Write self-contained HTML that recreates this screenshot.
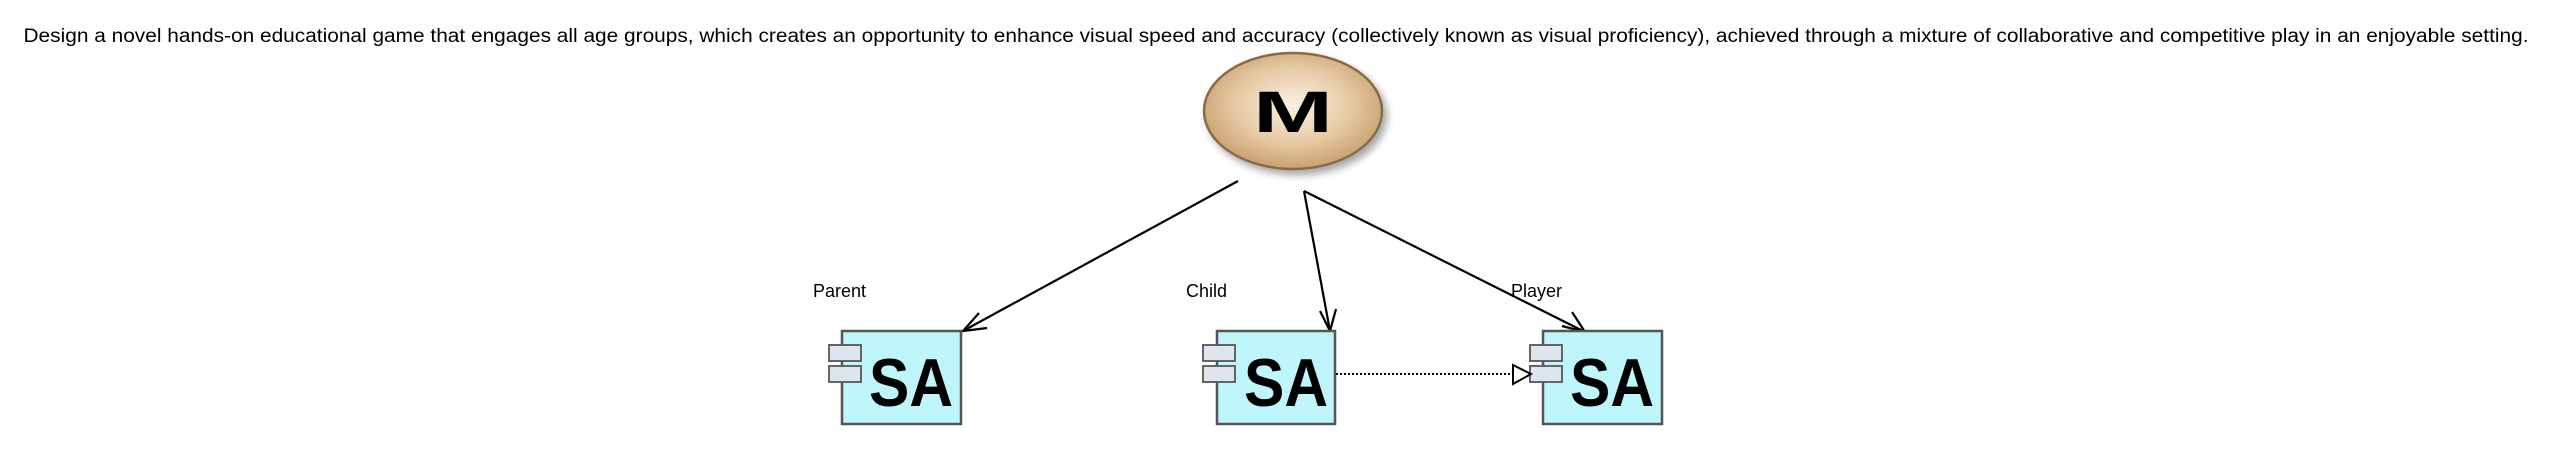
<!DOCTYPE html>
<html><head><meta charset="utf-8"><style>
html,body{margin:0;padding:0;background:#fff;}
svg{display:block;}
</style></head><body>
<svg width="2554" height="469" viewBox="0 0 2554 469" xmlns="http://www.w3.org/2000/svg">
<defs>
<radialGradient id="g" cx="0.5" cy="0.45" r="0.55">
<stop offset="0" stop-color="#fbf1e3"/>
<stop offset="0.6" stop-color="#e6c9a3"/>
<stop offset="1" stop-color="#c9a070"/>
</radialGradient>
<filter id="sh" x="-20%" y="-20%" width="150%" height="150%">
<feGaussianBlur in="SourceAlpha" stdDeviation="4"/>
<feOffset dx="4" dy="5"/>
<feComponentTransfer><feFuncA type="linear" slope="0.35"/></feComponentTransfer>
<feMerge><feMergeNode/><feMergeNode in="SourceGraphic"/></feMerge>
</filter>
</defs>
<text x="1276" y="42" text-anchor="middle" font-family="Liberation Sans, sans-serif" font-size="19" textLength="2505" lengthAdjust="spacingAndGlyphs" fill="#000">Design a novel hands-on educational game that engages all age groups, which creates an opportunity to enhance visual speed and accuracy (collectively known as visual proficiency), achieved through a mixture of collaborative and competitive play in an enjoyable setting.</text>

<ellipse cx="1293" cy="111" rx="89" ry="58" fill="url(#g)" stroke="#8a6a45" stroke-width="2.5" filter="url(#sh)"/>
<text x="1293" y="132" text-anchor="middle" font-family="Liberation Sans, sans-serif" font-weight="bold" font-size="58" textLength="80" lengthAdjust="spacingAndGlyphs" fill="#000">M</text>

<g stroke="#000" stroke-width="2.2" fill="none">
<line x1="1238" y1="181" x2="963" y2="331"/>
<polyline points="979,313 963,331 987,328"/>
<line x1="1304" y1="191" x2="1330" y2="331"/>
<polyline points="1320,311 1330,331 1336,309"/>
<line x1="1304" y1="191" x2="1585" y2="332"/>
<polyline points="1562,326 1585,332 1572,312"/>
</g>

<g font-family="Liberation Sans, sans-serif" font-size="18" fill="#000">
<text x="813" y="297">Parent</text>
<text x="1186" y="297">Child</text>
<text x="1511" y="297">Player</text>
</g>

<g stroke="#555" stroke-width="2.5">
<rect x="842" y="331" width="119" height="93" fill="#bff6fb"/>
<rect x="829" y="345" width="32" height="16" fill="#dfe5ee" stroke-width="1.8"/>
<rect x="829" y="366" width="32" height="16" fill="#dfe5ee" stroke-width="1.8"/>
<rect x="1217" y="331" width="118" height="93" fill="#bff6fb"/>
<rect x="1203" y="345" width="32" height="16" fill="#dfe5ee" stroke-width="1.8"/>
<rect x="1203" y="366" width="32" height="16" fill="#dfe5ee" stroke-width="1.8"/>
<rect x="1543" y="331" width="119" height="93" fill="#bff6fb"/>
<rect x="1530" y="345" width="32" height="16" fill="#dfe5ee" stroke-width="1.8"/>
<rect x="1530" y="366" width="32" height="16" fill="#dfe5ee" stroke-width="1.8"/>
</g>
<g font-family="Liberation Sans, sans-serif" font-weight="bold" font-size="68" fill="#000">
<text x="869" y="406" textLength="84" lengthAdjust="spacingAndGlyphs">SA</text>
<text x="1244" y="406" textLength="84" lengthAdjust="spacingAndGlyphs">SA</text>
<text x="1570" y="406" textLength="84" lengthAdjust="spacingAndGlyphs">SA</text>
</g>

<line x1="1336" y1="374" x2="1513" y2="374" stroke="#000" stroke-width="2" stroke-dasharray="2,2"/>
<polygon points="1513,365 1531,374 1513,384" fill="#fff" stroke="#000" stroke-width="2"/>
</svg>
</body></html>
